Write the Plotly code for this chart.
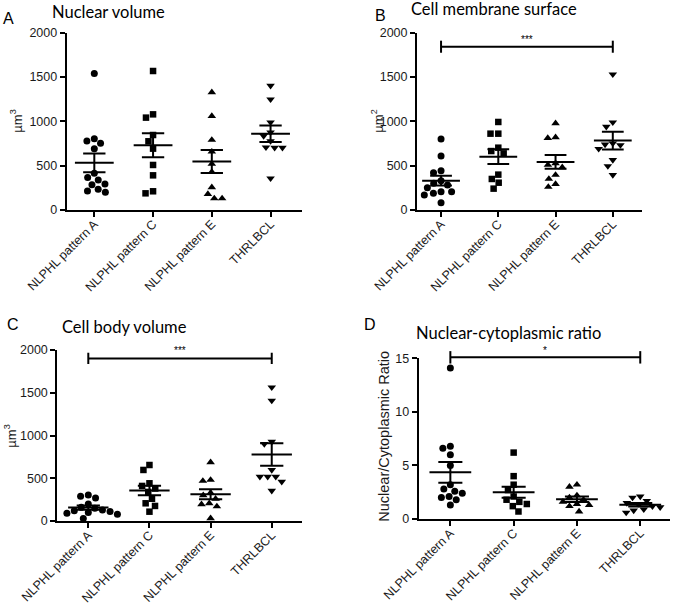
import math
import plotly.graph_objects as go

# ---------------- data ----------------
categories = ["NLPHL pattern A", "NLPHL pattern C", "NLPHL pattern E", "THRLBCL"]

nv_pattern_a = [1541, 805, 778, 752, 692, 414, 368, 338, 293, 286, 233, 214, 199]
nv_pattern_c = [1568, 1079, 1042, 846, 775, 692, 508, 391, 211, 188]
nv_pattern_e = [1327, 1060, 790, 658, 519, 430, 256, 180, 130, 130]
nv_thrlbcl = [1402, 1248, 989, 876, 835, 778, 707, 703, 703, 357]

cs_pattern_a = [801, 609, 444, 421, 331, 301, 282, 250, 207, 207, 190, 169, 83]
cs_pattern_c = [993, 861, 861, 703, 665, 639, 399, 350, 308, 241]
cs_pattern_e = [978, 820, 812, 526, 508, 481, 395, 350, 293, 260]
cs_thrlbcl = [1530, 989, 940, 752, 740, 733, 690, 564, 496, 395]

cb_pattern_a = [304, 290, 270, 200, 160, 150, 130, 120, 110, 100, 90, 80, 30]
cb_pattern_c = [655, 597, 441, 410, 380, 340, 260, 207, 176, 109]
cb_pattern_e = [686, 480, 468, 330, 300, 260, 207, 195, 170, 31]
cb_thrlbcl = [1564, 1408, 928, 901, 597, 519, 519, 519, 460, 355]

nc_pattern_a = [14.1, 6.8, 6.6, 6.0, 5.0, 3.2, 2.8, 2.6, 2.4, 2.1, 2.0, 1.8, 1.3]
nc_pattern_c = [6.2, 4.0, 3.2, 2.7, 2.1, 1.8, 1.6, 1.4, 1.2, 0.7]
nc_pattern_e = [3.2, 3.0, 2.2, 2.0, 1.8, 1.6, 1.4, 1.3, 1.2, 0.7]
nc_thrlbcl = [2.1, 2.0, 1.7, 1.5, 1.4, 1.2, 1.1, 0.9, 0.8, 0.6]

panel_titles = ["Nuclear volume", "Cell membrane surface", "Cell body volume", "Nuclear-cytoplasmic ratio"]
panel_letters = ["A", "B", "C", "D"]
y_titles = ["µm<sup>3</sup>", "µm<sup>2</sup>", "µm<sup>3</sup>", "Nuclear/Cytoplasmic Ratio"]
y_ticks_volume = [0, 500, 1000, 1500, 2000]
y_ticks_ratio = [0, 5, 10, 15]

# ---------------- layout constants ----------------
W, H = 674, 607
symbols = ["circle", "square", "triangle-up", "triangle-down"]
msizes = [7, 6.5, 7.5, 7.5]

def px2x(px):
    return px / W

def px2y(py):
    return 1 - py / H

panels = [
    dict(groups=[nv_pattern_a, nv_pattern_c, nv_pattern_e, nv_thrlbcl],
         xpx=(66.7, 301.7), ypx=(32.7, 210), xr=[-0.47, 3.53], yr=[0, 2000], yt=y_ticks_volume,
         title=(50, 12), letter=(8, 18), ytitle=(16, 121.7), ytsize=13, sig=None),
    dict(groups=[cs_pattern_a, cs_pattern_c, cs_pattern_e, cs_thrlbcl],
         xpx=(417, 642), ypx=(32.7, 210), xr=[-0.42, 3.51], yr=[0, 2000], yt=y_ticks_volume,
         title=(409, 9), letter=(380, 15), ytitle=(377, 121.7), ytsize=13, sig=(1842, 68, "***", 1925)),
    dict(groups=[cb_pattern_a, cb_pattern_c, cb_pattern_e, cb_thrlbcl],
         xpx=(57.3, 301.7), ypx=(350, 521), xr=[-0.507, 3.49], yr=[0, 2000], yt=y_ticks_volume,
         title=(60, 327), letter=(13, 324), ytitle=(10, 436.7), ytsize=13, sig=(1902, 66, "***", 1990)),
    dict(groups=[nc_pattern_a, nc_pattern_c, nc_pattern_e, nc_thrlbcl],
         xpx=(418.7, 670), ypx=(358.3, 519), xr=[-0.5, 3.47], yr=[0, 15], yt=y_ticks_ratio,
         title=(414, 333), letter=(370, 324), ytitle=(384, 436.7), ytsize=14.5, sig=(15.09, 0.58, "*", 15.7)),
]


def swarm(values, ypx_per_unit, xpx_per_cat, diam):
    order = sorted(range(len(values)), key=lambda i: -values[i])
    placed = []
    offs = [0.0] * len(values)
    for i in order:
        y = values[i] * ypx_per_unit
        cands = [0.0]
        for (qx, qy) in placed:
            dy = abs(y - qy)
            if dy < diam:
                dx = math.sqrt(diam ** 2 - dy ** 2)
                cands += [qx - dx, qx + dx]
        valid = [c for c in cands
                 if all((c - qx) ** 2 + (y - qy) ** 2 >= diam ** 2 - 1e-6 for qx, qy in placed)]
        best = min(valid, key=lambda c: (abs(c), c))
        placed.append((best, y))
        offs[i] = best / xpx_per_cat
    return offs


fig = go.Figure()
ytick_font = dict(family="Liberation Sans, Arial", size=12.5, color="#1a1a1a")
xtick_font = dict(family="Liberation Sans, Arial", size=12.5, color="#1a1a1a")
annotations = []
shapes = []

for p_i, p in enumerate(panels):
    ax = "" if p_i == 0 else str(p_i + 1)
    xname, yname = "x" + ax, "y" + ax
    x0, x1 = p["xpx"]
    ytop, ybot = p["ypx"]
    xdom = [px2x(x0), px2x(x1)]
    ydom = [px2y(ybot), px2y(ytop)]
    xpx_per_cat = (x1 - x0) / (p["xr"][1] - p["xr"][0])
    ypx_per_unit = (ybot - ytop) / (p["yr"][1] - p["yr"][0])

    fig.layout["xaxis" + ax] = dict(
        domain=xdom, range=p["xr"], anchor=yname, tickmode="array",
        tickvals=list(range(len(categories))), ticktext=categories, tickangle=-45,
        showline=True, linecolor="black", linewidth=2, ticks="outside", ticklen=5,
        tickwidth=2, tickcolor="black", showgrid=False, zeroline=False, tickfont=xtick_font,
        ticklabelstandoff=-5, fixedrange=True, automargin=False)
    fig.layout["yaxis" + ax] = dict(
        domain=ydom, range=p["yr"], anchor=xname, tickmode="array", tickvals=p["yt"],
        showline=True, linecolor="black", linewidth=2, ticks="outside", ticklen=5,
        tickwidth=2, tickcolor="black", showgrid=False, zeroline=False, tickfont=ytick_font,
        fixedrange=True, automargin=False)

    for g_i, vals in enumerate(p["groups"]):
        offs = swarm(vals, ypx_per_unit, xpx_per_cat, 7.8)
        fig.add_trace(go.Scatter(
            x=[g_i + o for o in offs], y=vals, mode="markers", xaxis=xname, yaxis=yname,
            marker=dict(symbol=symbols[g_i], size=msizes[g_i], color="black", line=dict(width=0)),
            cliponaxis=False, hoverinfo="y"))
        n = len(vals)
        mean = sum(vals) / n
        sd = math.sqrt(sum((v - mean) ** 2 for v in vals) / (n - 1))
        sem = sd / math.sqrt(n)
        mh, sh = 0.33, 0.19
        fig.add_trace(go.Scatter(
            x=[g_i - mh, g_i + mh, None, g_i - sh, g_i + sh, None, g_i - sh, g_i + sh, None, g_i, g_i],
            y=[mean, mean, None, mean + sem, mean + sem, None, mean - sem, mean - sem, None,
               mean + sem, mean - sem],
            mode="lines", line=dict(color="black", width=2), xaxis=xname, yaxis=yname,
            hoverinfo="skip", cliponaxis=False))

    # significance bar (domain coords so it can extend above the axis top)
    if p["sig"] is not None:
        yv, cap, label, ylab = p["sig"]
        def xd(v):
            return (v - p["xr"][0]) / (p["xr"][1] - p["xr"][0])
        def yd(v):
            return (v - p["yr"][0]) / (p["yr"][1] - p["yr"][0])
        line = dict(color="black", width=2)
        shapes.append(dict(type="line", xref=xname + " domain", yref=yname + " domain",
                           x0=xd(0), x1=xd(3), y0=yd(yv), y1=yd(yv), line=line))
        for cx in (0, 3):
            shapes.append(dict(type="line", xref=xname + " domain", yref=yname + " domain",
                               x0=xd(cx), x1=xd(cx), y0=yd(yv - cap), y1=yd(yv + cap), line=line))
        annotations.append(dict(text=label, x=xd(1.5), y=yd(ylab), xref=xname + " domain",
                                yref=yname + " domain", showarrow=False,
                                font=dict(family="Liberation Sans, Arial", size=10, color="black"),
                                yanchor="middle"))

    tx, ty = p["title"]
    annotations.append(dict(text=panel_titles[p_i], x=px2x(tx), y=px2y(ty), xref="paper", yref="paper",
                            xanchor="left", yanchor="middle", showarrow=False,
                            font=dict(family="Lato, Carlito, sans-serif", size=16.5, color="black")))
    lx, ly = p["letter"]
    annotations.append(dict(text=panel_letters[p_i], x=px2x(lx), y=px2y(ly), xref="paper", yref="paper",
                            xanchor="center", yanchor="middle", showarrow=False,
                            font=dict(family="Liberation Sans, Arial", size=16, color="black")))
    yx, yy = p["ytitle"]
    annotations.append(dict(text=y_titles[p_i], x=px2x(yx), y=px2y(yy), xref="paper", yref="paper",
                            xanchor="center", yanchor="middle", showarrow=False, textangle=-90,
                            font=dict(family="Liberation Sans, Arial", size=p["ytsize"], color="#1a1a1a")))

fig.update_layout(
    width=W, height=H, margin=dict(l=0, r=0, t=0, b=0, autoexpand=False),
    paper_bgcolor="white", plot_bgcolor="white", showlegend=False,
    annotations=annotations, shapes=shapes)

fig.write_html("out.html", config={"displayModeBar": False},
               post_script="document.body.style.margin='0px';document.body.style.overflow='hidden';")
